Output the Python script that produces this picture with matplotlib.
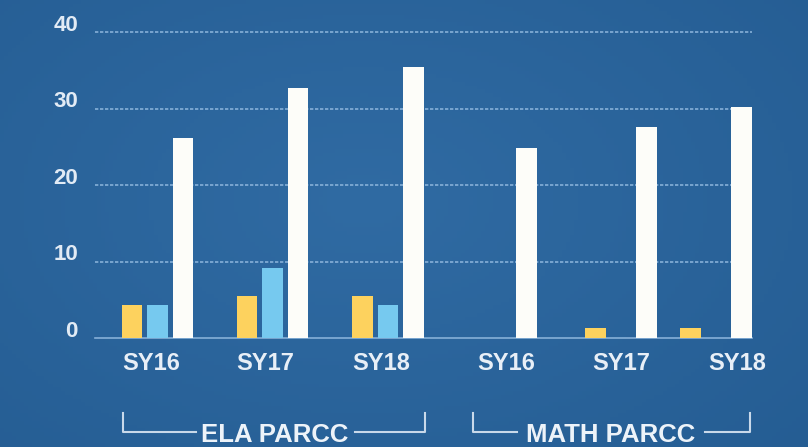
import matplotlib.pyplot as plt
import numpy as np

# data
years = ["SY16", "SY17", "SY18"]
groups = ["ELA PARCC", "MATH PARCC"]
ela_yellow = [4.3, 5.5, 5.5]
ela_blue = [4.3, 9.2, 4.3]
ela_white = [26.1, 32.7, 35.4]
math_yellow = [0, 1.3, 1.3]
math_blue = [0, 0, 0]
math_white = [24.8, 27.6, 30.2]

if __name__ == "__main__":
    fig = plt.figure(figsize=(8.08, 4.47), dpi=100)
    ax = fig.add_axes([0, 0, 1, 1])
    ax.set_axis_off()

    px = 7.65  # pixels per unit
    ax.set_xlim(0, 808)
    ax.set_ylim(-(447 - 338) / px, 40 + 32 / px)
    y_of = lambda p: (338 - p) / px
    fam = ["Liberation Sans", "DejaVu Sans"]

    # background gradient
    gx, gy = np.meshgrid(np.linspace(0, 1, 200), np.linspace(0, 1, 120))
    r = np.sqrt(((gx - 0.45) / 0.8) ** 2 + ((gy - 0.45) / 0.9) ** 2)
    t = np.clip(r, 0, 1)[..., None]
    c_in = np.array([0x30, 0x6b, 0xa3]) / 255
    c_out = np.array([0x24, 0x5c, 0x92]) / 255
    img = c_in * (1 - t) + c_out * t
    ax.imshow(img, extent=[0, 808, ax.get_ylim()[0], ax.get_ylim()[1]],
              aspect="auto", zorder=0, origin="upper")

    # grid
    for v in [0, 10, 20, 30, 40]:
        ax.plot([95, 752], [v, v], color="#86b0d8", lw=1.2,
                ls=(0, (2, 1)) if v else "-", zorder=1)
        ax.text(78, v + 0.9, str(v), ha="right", va="center", color="#e2ebf5",
                fontsize=16, fontweight="bold", family=fam)

    centers = [157.5, 272.5, 388, 501, 621, 716]
    w = 20.5
    off = 25.5
    yellow = ela_yellow + math_yellow
    blue = ela_blue + math_blue
    white = ela_white + math_white
    cx = np.array(centers)
    ax.bar(cx - off, yellow, width=w, color="#fdd25e", zorder=2)
    ax.bar(cx, blue, width=w, color="#76c9ef", zorder=2)
    ax.bar(cx + off, white, width=w, color="#fdfdf9", zorder=2)

    label_x = [151, 265, 381, 506, 621, 737]
    for x, lab in zip(label_x, years + years):
        ax.text(x, y_of(364), lab, ha="center", va="center", color="#e8eff7",
                fontsize=17, fontweight="bold", family=fam)

    # group brackets
    bc = "#c9d9ea"
    y_top, y_bot = y_of(413), y_of(432)
    for (x0, x1, t0, t1, tc), name in zip([(123, 425, 196, 355, 275), (473, 750, 517, 705, 611)], groups):
        ax.plot([x0, x0, t0], [y_top, y_bot, y_bot], color=bc, lw=1.5, zorder=2)
        ax.plot([t1, x1, x1], [y_bot, y_bot, y_top], color=bc, lw=1.5, zorder=2)
        ax.text(tc, y_of(435), name, ha="center", va="center", color="#edf3f9",
                fontsize=18.5, fontweight="bold", family=fam)

    fig.savefig("out.png", dpi=100)
